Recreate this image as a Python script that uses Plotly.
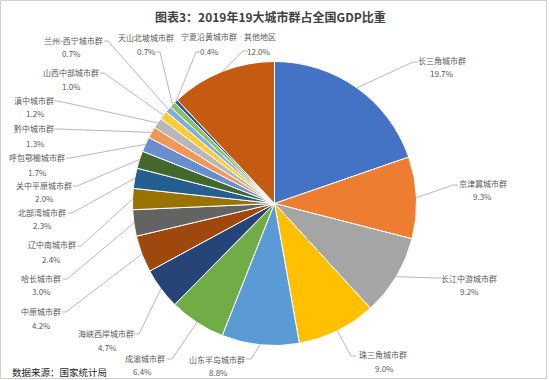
import math
import plotly.graph_objects as go

# ---- data ----
regions = ["长三角城市群", "京津冀城市群", "长江中游城市群", "珠三角城市群", "山东半岛城市群",
           "成渝城市群", "海峡西岸城市群", "中原城市群", "哈长城市群", "辽中南城市群",
           "北部湾城市群", "关中平原城市群", "呼包鄂榆城市群", "黔中城市群", "滇中城市群",
           "山西中部城市群", "兰州-西宁城市群", "天山北坡城市群", "宁夏沿黄城市群", "其他地区"]
shares = [19.7, 9.3, 9.2, 9.0, 8.8, 6.4, 4.7, 4.2, 3.0, 2.4,
          2.3, 2.0, 1.7, 1.3, 1.2, 1.0, 0.7, 0.7, 0.4, 12.0]

# ---- styles / layout ----
colors = ["#4472C4", "#ED7D31", "#A5A5A5", "#FFC000", "#5B9BD5", "#70AD47",
          "#264478", "#9E480E", "#636363", "#997300", "#255E91", "#43682B",
          "#698ED0", "#F1975A", "#B7B7B7", "#FFCD33", "#7CAFDD", "#8CC168",
          "#2F5597", "#C55A11"]
W, H = 549, 380
CX, CY, R = 274.5, 203.5, 142.0

# label placement (pixels): name centre x, name y, pct centre x, pct y
label_pos = [
    (442, 60, 442, 73), (483, 183, 482, 196), (469, 278, 469, 291),
    (383, 354, 384, 368), (217, 359, 218, 372), (145, 358, 142, 371),
    (106, 333, 107, 347), (41, 311, 41, 325), (41, 278, 41, 291),
    (52, 244, 51, 259), (42, 212, 42, 225), (44, 185, 44, 198),
    (37, 157, 37, 172), (34, 128, 35, 143), (34, 100, 35, 113),
    (71, 72, 71, 86), (73, 40, 71, 53), (146, 37, 146, 51),
    (209, 36, 209, 51), (260, 36, 259, 51),
]
# leader line start and elbow (pixels)
leader = [
    ((418, 62), (413, 62)), ((458, 185), (453, 185)), ((441, 278), (436, 278)),
    ((356, 356), (351, 356)), ((246, 359), (251, 359)), ((167, 359), (172, 359)),
    ((134, 334), (139, 334)), ((62, 312), (66, 312)), ((63, 279), (67, 279)),
    ((77, 246), (81, 246)), ((68, 213), (72, 213)), ((73, 186), (77, 186)),
    ((66, 158), (70, 158)), ((54, 129), (58, 129)), ((54, 101), (58, 101)),
    ((100, 73), (104, 73)), ((104, 41), (108, 41)), ((156, 52), (160, 52)),
    ((200, 52), (196, 52)), ((248, 51), (243, 51)),
]

fig = go.Figure()
fig.add_trace(go.Pie(
    labels=regions, values=shares, sort=False, direction="clockwise", rotation=0,
    marker=dict(colors=colors, line=dict(color="white", width=1)),
    textinfo="none", hoverinfo="label+percent", showlegend=False,
    domain=dict(x=[(CX - R) / W, (CX + R) / W], y=[1 - (CY + R) / H, 1 - (CY - R) / H]),
))

total = sum(shares)
cum = 0.0
shapes = []
annotations = []
FONT = "Noto Sans CJK SC"
for i, (name, v) in enumerate(zip(regions, shares)):
    mid = (cum + v / 2) / total * 2 * math.pi
    cum += v
    px = CX + R * math.sin(mid)
    py = CY - R * math.cos(mid)
    (x0, y0), (x1, y1) = leader[i]
    shapes.append(dict(type="path", xref="x", yref="y",
                       path=f"M{x0},{y0} L{x1},{y1} L{px:.1f},{py:.1f}",
                       line=dict(color="#A6A6A6", width=0.8)))
    nx, ny, qx, qy = label_pos[i]
    annotations.append(dict(x=nx, y=ny, xref="x", yref="y", text=name, showarrow=False,
                            font=dict(size=8, color="#595959", family=FONT),
                            xanchor="center", yanchor="middle"))
    annotations.append(dict(x=qx, y=qy, xref="x", yref="y", text=f"{v:.1f}%", showarrow=False,
                            font=dict(size=8, color="#595959", family=FONT),
                            xanchor="center", yanchor="middle"))

annotations.append(dict(x=270, y=16, xref="x", yref="y", text="<b>图表3：2019年19大城市群占全国GDP比重</b>",
                        showarrow=False, font=dict(size=12, color="#404040", family=FONT),
                        xanchor="center", yanchor="middle"))
annotations.append(dict(x=10, y=372, xref="x", yref="y", text="数据来源：国家统计局",
                        showarrow=False, font=dict(size=9.5, color="#262626", family=FONT),
                        xanchor="left", yanchor="middle"))

shapes.append(dict(type="rect", xref="x", yref="y", x0=0.5, y0=0.5, x1=546.5, y1=378.5,
                   line=dict(color="#D0D0D0", width=1)))

fig.update_layout(
    width=W, height=H, margin=dict(l=0, r=0, t=0, b=0),
    paper_bgcolor="white", plot_bgcolor="rgba(0,0,0,0)",
    xaxis=dict(range=[0, W], visible=False, fixedrange=True),
    yaxis=dict(range=[H, 0], visible=False, fixedrange=True),
    shapes=shapes, annotations=annotations,
)
fig.write_html("out.html", config={"displayModeBar": False},
               post_script="document.body.style.margin='0';document.body.style.overflow='hidden';")
